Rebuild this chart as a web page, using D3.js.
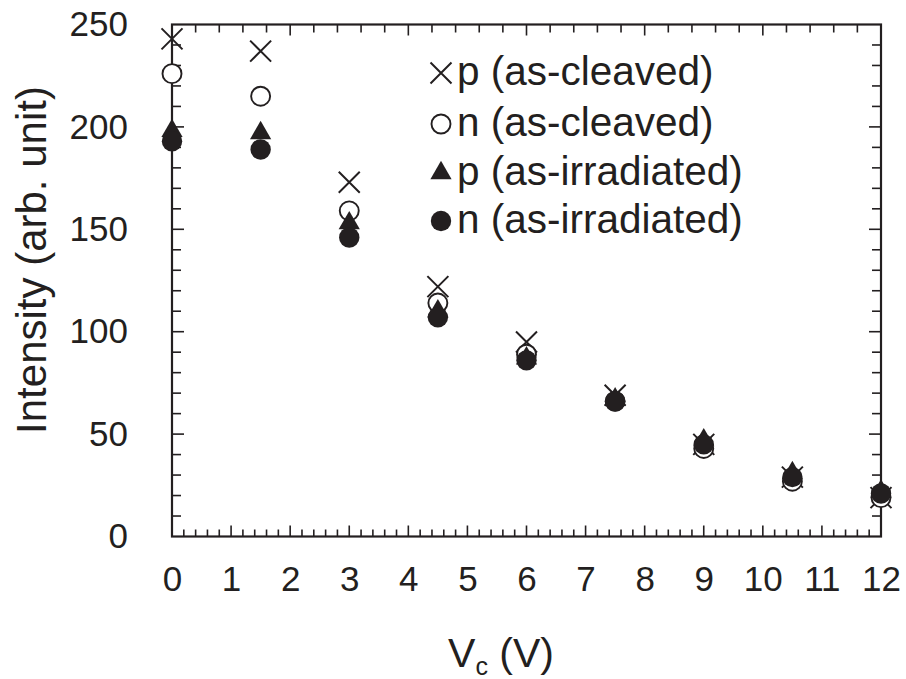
<!DOCTYPE html>
<html>
<head>
<meta charset="utf-8">
<script src="https://cdn.jsdelivr.net/npm/d3@7"></script>
<style>
  html, body { margin: 0; padding: 0; background: #fff; }
  svg { display: block; }
  text { font-family: "Liberation Sans", Arial, Helvetica, sans-serif; fill: #231f20; }
</style>
</head>
<body>
<script>
// Collector voltage (V)
const voltages = [0, 1.5, 3, 4.5, 6, 7.5, 9, 10.5, 12];

// Intensity (arb. unit) for each sample condition
const pCleaved    = [243, 237, 173, 122, 95, 69, 45, 29, 19];
const nCleaved    = [226, 215, 159, 114, 89, 66, 43, 27, 19];
const pIrradiated = [198, 197, 153, 110, 87, 67, 47, 31, 22];
const nIrradiated = [193, 189, 146, 107, 86, 66, 45, 29, 21];

const seriesNames = ["p (as-cleaved)", "n (as-cleaved)", "p (as-irradiated)", "n (as-irradiated)"];
const seriesShapes = ["cross", "openCircle", "triangle", "dot"];

const xTickLabels = [0, 1, 2, 3, 4, 5, 6, 7, 8, 9, 10, 11, 12];
const yTickLabels = [0, 50, 100, 150, 200, 250];

const W = 906, H = 679;
const ink = "#231f20";
const plot = { left: 172, right: 881, top: 24.5, bottom: 536.5 };

const svg = d3.select("body").append("svg").attr("width", W).attr("height", H);

const x = d3.scaleLinear().domain([0, 12]).range([plot.left, plot.right]);
const y = d3.scaleLinear().domain([0, 250]).range([plot.bottom, plot.top]);

// Inward tick marks on all four sides
function tickLines(values, len, side) {
  const g = svg.append("g").attr("stroke", ink).attr("stroke-width", 1.6);
  values.forEach(v => {
    if (side === "bottom") g.append("line").attr("x1", x(v)).attr("x2", x(v)).attr("y1", plot.bottom).attr("y2", plot.bottom - len);
    if (side === "top") g.append("line").attr("x1", x(v)).attr("x2", x(v)).attr("y1", plot.top).attr("y2", plot.top + len);
    if (side === "left") g.append("line").attr("y1", y(v)).attr("y2", y(v)).attr("x1", plot.left).attr("x2", plot.left + len);
    if (side === "right") g.append("line").attr("y1", y(v)).attr("y2", y(v)).attr("x1", plot.right).attr("x2", plot.right - len);
  });
}
const near = (a, b) => Math.abs(a - b) < 1e-6;
const bottomAll = d3.range(0, 60).map(i => i * 0.2).filter(v => v > 0 && v < 12);
tickLines(bottomAll.filter(v => !near(v, Math.round(v))), 7, "bottom");
tickLines(bottomAll.filter(v => near(v, Math.round(v))), 11, "bottom");
const topAll = d3.range(1, 30).map(i => i * 0.4);
tickLines(topAll.filter(v => !near(v / 2, Math.round(v / 2))), 8, "top");
tickLines(topAll.filter(v => near(v / 2, Math.round(v / 2))), 11, "top");
const yAll = d3.range(1, 25).map(i => i * 10);
tickLines(yAll.filter(v => v % 50 !== 0), 9, "left");
tickLines(yAll.filter(v => v % 50 === 0), 12, "left");
tickLines(yAll.filter(v => v % 50 !== 0), 9, "right");
tickLines(yAll.filter(v => v % 50 === 0), 12, "right");

// Frame
svg.append("rect")
  .attr("x", plot.left).attr("y", plot.top)
  .attr("width", plot.right - plot.left).attr("height", plot.bottom - plot.top)
  .attr("fill", "none").attr("stroke", ink).attr("stroke-width", 2.2);

// Tick labels via d3 axes, with their own tick lines hidden
const xAxis = svg.append("g").attr("transform", `translate(0,${plot.bottom})`)
  .call(d3.axisBottom(x).tickValues(xTickLabels).tickSize(0).tickPadding(30).tickFormat(d3.format("d")));
xAxis.select(".domain").remove();
xAxis.selectAll("text").attr("font-size", 35).attr("fill", ink).attr("font-family", "Liberation Sans, Arial, sans-serif");

const yAxis = svg.append("g").attr("transform", `translate(${plot.left},0)`)
  .call(d3.axisLeft(y).tickValues(yTickLabels).tickSize(0).tickPadding(44).tickFormat(d3.format("d")));
yAxis.select(".domain").remove();
yAxis.selectAll("text").attr("font-size", 35).attr("fill", ink).attr("font-family", "Liberation Sans, Arial, sans-serif");

// Axis titles
svg.append("text")
  .attr("transform", `translate(46,260) rotate(-90)`)
  .attr("text-anchor", "middle").attr("font-size", 42)
  .text("Intensity (arb. unit)");

const xt = svg.append("text").attr("x", 501).attr("y", 667).attr("text-anchor", "middle").attr("font-size", 41);
xt.append("tspan").text("V");
xt.append("tspan").attr("font-size", 25).attr("dy", 8).text("c");
xt.append("tspan").attr("dy", -8).text(" (V)");

// Marker drawing
function drawMarker(g, shape, cx, cy) {
  if (shape === "cross") {
    const s = 10.5;
    g.append("path")
      .attr("d", `M${cx - s},${cy - s}L${cx + s},${cy + s}M${cx - s},${cy + s}L${cx + s},${cy - s}`)
      .attr("stroke", ink).attr("stroke-width", 2).attr("fill", "none");
  } else if (shape === "openCircle") {
    g.append("circle").attr("cx", cx).attr("cy", cy).attr("r", 9.5)
      .attr("fill", "#fff").attr("stroke", ink).attr("stroke-width", 1.9);
  } else if (shape === "triangle") {
    g.append("path")
      .attr("d", d3.symbol().type(d3.symbolTriangle).size(195)())
      .attr("transform", `translate(${cx},${cy})`)
      .attr("fill", ink);
  } else {
    g.append("circle").attr("cx", cx).attr("cy", cy).attr("r", 10.2).attr("fill", ink);
  }
}

const allSeries = [pCleaved, nCleaved, pIrradiated, nIrradiated];
allSeries.forEach((vals, si) => {
  const g = svg.append("g").attr("class", "series-" + si);
  vals.forEach((v, i) => drawMarker(g, seriesShapes[si], x(voltages[i]), y(v)));
});

// Legend
const legendY = [73, 124, 173, 221];
const lg = svg.append("g");
seriesNames.forEach((name, i) => {
  drawMarker(lg, seriesShapes[i], 441, legendY[i]);
  lg.append("text").attr("x", 457).attr("y", legendY[i] + 12)
    .attr("font-size", 40.5).text(name);
});
</script>
</body>
</html>
